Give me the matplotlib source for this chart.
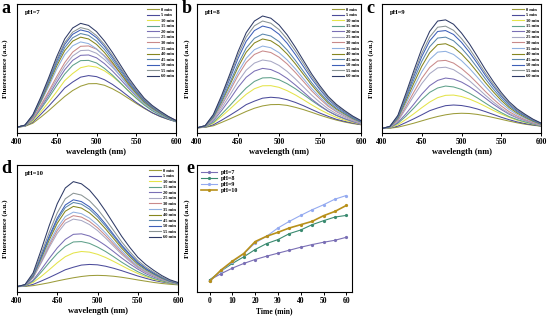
import matplotlib
matplotlib.use("Agg")
import matplotlib.pyplot as plt

plt.rcParams['font.family'] = ['Liberation Serif', 'DejaVu Serif']
plt.rcParams['font.weight'] = 'bold'

wavelength = list(range(400, 601, 10))
times = ["0 min", "5 min", "10 min", "15 min", "20 min", "25 min", "30 min",
         "35 min", "40 min", "45 min", "50 min", "55 min", "60 min"]
colors = ["#9c9c3a", "#4b4b9b", "#e4e44a", "#5fa08a", "#7a6fb5", "#a8a8c4", "#c98a8a",
          "#8fb0e0", "#86861e", "#5a86ac", "#3d5fb8", "#8a9494", "#2e3a66"]

spectra_ph7 = [
    [45, 52, 76, 123, 174, 229, 283, 329, 363, 382, 383, 370, 343, 309, 269, 229, 191, 157, 128, 106, 89],
    [45, 53, 85, 145, 209, 277, 349, 395, 433, 445, 437, 413, 377, 333, 285, 237, 195, 157, 129, 107, 87],
    [45, 55, 93, 164, 240, 321, 406, 461, 506, 520, 511, 482, 439, 387, 330, 273, 223, 178, 145, 119, 95],
    [45, 55, 102, 186, 274, 368, 457, 524, 561, 563, 543, 501, 449, 389, 326, 269, 217, 173, 139, 113, 89],
    [45, 56, 107, 197, 293, 394, 490, 563, 602, 605, 583, 538, 481, 417, 349, 287, 231, 183, 146, 118, 93],
    [45, 57, 111, 207, 309, 417, 519, 597, 639, 642, 618, 570, 510, 441, 369, 303, 243, 192, 153, 123, 96],
    [45, 58, 115, 216, 324, 438, 545, 627, 672, 675, 650, 599, 536, 463, 387, 317, 254, 200, 159, 127, 99],
    [45, 58, 124, 237, 362, 495, 607, 676, 706, 693, 653, 594, 521, 442, 362, 293, 230, 184, 147, 114, 88],
    [45, 59, 129, 247, 380, 520, 638, 712, 743, 729, 687, 624, 548, 464, 380, 307, 240, 192, 153, 118, 90],
    [45, 60, 132, 256, 394, 539, 662, 738, 771, 757, 713, 648, 568, 481, 394, 317, 248, 198, 158, 121, 92],
    [45, 60, 136, 264, 407, 558, 686, 765, 799, 784, 739, 671, 588, 497, 407, 328, 256, 203, 162, 124, 94],
    [45, 60, 138, 269, 416, 570, 701, 782, 817, 802, 755, 686, 601, 508, 416, 335, 261, 207, 165, 126, 95],
    [45, 61, 142, 279, 431, 592, 729, 814, 850, 834, 786, 713, 625, 528, 431, 347, 270, 214, 170, 130, 97],
]
spectra_ph8 = [
    [40, 44, 56, 82, 109, 138, 167, 192, 210, 220, 221, 214, 199, 181, 160, 138, 118, 100, 85, 73, 64],
    [40, 45, 64, 99, 137, 177, 220, 247, 270, 277, 272, 258, 237, 211, 182, 154, 129, 106, 90, 77, 65],
    [40, 47, 76, 129, 185, 244, 300, 343, 366, 367, 354, 328, 295, 257, 218, 181, 149, 121, 99, 83, 68],
    [40, 48, 83, 146, 212, 282, 349, 400, 427, 429, 413, 382, 343, 298, 251, 208, 169, 136, 110, 91, 73],
    [40, 49, 95, 174, 261, 354, 432, 480, 501, 492, 464, 423, 372, 317, 261, 213, 169, 137, 111, 88, 70],
    [40, 51, 103, 193, 293, 398, 487, 542, 566, 556, 524, 477, 419, 356, 293, 237, 187, 150, 122, 95, 74],
    [40, 52, 112, 213, 326, 445, 547, 609, 636, 624, 588, 535, 469, 398, 326, 264, 207, 165, 132, 103, 79],
    [40, 53, 116, 224, 344, 471, 579, 646, 674, 661, 623, 566, 497, 420, 344, 278, 218, 173, 138, 107, 81],
    [40, 54, 123, 240, 371, 509, 626, 698, 729, 715, 674, 612, 536, 453, 371, 298, 233, 185, 147, 112, 85],
    [40, 55, 127, 251, 389, 534, 658, 734, 767, 752, 709, 643, 563, 476, 389, 313, 244, 193, 153, 116, 87],
    [40, 56, 135, 269, 419, 577, 711, 794, 829, 813, 766, 695, 608, 513, 419, 336, 261, 206, 162, 123, 91],
    [40, 57, 139, 280, 437, 603, 744, 831, 868, 851, 802, 727, 636, 537, 437, 351, 272, 214, 168, 127, 94],
    [40, 57, 144, 291, 456, 630, 777, 868, 907, 890, 838, 760, 664, 560, 456, 365, 283, 222, 174, 131, 96],
]
spectra_ph9 = [
    [35, 37, 45, 60, 76, 94, 112, 128, 141, 150, 153, 151, 144, 133, 120, 106, 92, 79, 68, 60, 53],
    [35, 39, 53, 81, 110, 141, 173, 194, 212, 217, 213, 202, 186, 166, 144, 122, 103, 86, 73, 63, 54],
    [35, 40, 64, 105, 149, 196, 240, 274, 292, 294, 283, 263, 237, 207, 175, 147, 121, 99, 82, 69, 57],
    [35, 42, 75, 130, 193, 259, 315, 349, 364, 357, 338, 308, 272, 232, 193, 158, 127, 104, 86, 70, 56],
    [35, 43, 82, 148, 223, 301, 367, 408, 426, 418, 395, 360, 317, 270, 223, 182, 145, 117, 96, 76, 60],
    [35, 45, 92, 188, 288, 383, 460, 505, 510, 491, 452, 405, 350, 293, 240, 192, 152, 121, 97, 76, 59],
    [35, 46, 99, 205, 316, 423, 508, 558, 563, 542, 500, 447, 386, 322, 263, 210, 165, 131, 104, 80, 62],
    [35, 47, 107, 227, 354, 474, 570, 627, 633, 609, 561, 501, 432, 360, 293, 233, 182, 143, 113, 86, 65],
    [35, 48, 114, 246, 385, 517, 622, 685, 692, 665, 613, 547, 471, 391, 319, 253, 197, 154, 121, 91, 68],
    [35, 49, 120, 263, 412, 555, 669, 736, 743, 715, 658, 587, 505, 420, 341, 270, 209, 163, 128, 96, 71],
    [35, 50, 127, 279, 439, 592, 714, 787, 794, 764, 703, 626, 539, 447, 363, 287, 222, 172, 134, 100, 73],
    [35, 51, 131, 290, 457, 617, 744, 820, 828, 796, 732, 653, 561, 465, 378, 298, 230, 179, 139, 103, 75],
    [35, 52, 137, 306, 483, 653, 788, 868, 877, 843, 775, 691, 593, 492, 399, 314, 242, 187, 145, 107, 77],
]
spectra_ph10 = [
    [42, 44, 50, 61, 73, 87, 100, 112, 122, 129, 131, 129, 124, 116, 106, 95, 85, 75, 67, 61, 56],
    [42, 46, 60, 86, 114, 144, 175, 195, 212, 217, 214, 203, 187, 168, 147, 126, 108, 91, 79, 69, 60],
    [42, 48, 75, 122, 175, 230, 278, 307, 319, 314, 297, 272, 241, 208, 175, 146, 120, 100, 85, 71, 60],
    [42, 49, 85, 156, 231, 303, 360, 394, 397, 383, 354, 319, 278, 235, 196, 160, 130, 106, 88, 72, 60],
    [42, 50, 92, 176, 264, 347, 414, 454, 458, 441, 408, 366, 318, 268, 222, 180, 144, 117, 96, 78, 63],
    [42, 53, 111, 228, 351, 462, 542, 574, 563, 531, 484, 425, 361, 297, 242, 191, 154, 125, 98, 77, 63],
    [42, 53, 115, 238, 366, 484, 568, 601, 590, 556, 506, 445, 377, 310, 252, 199, 159, 129, 101, 78, 64],
    [42, 54, 118, 247, 383, 506, 594, 629, 617, 582, 529, 465, 394, 324, 262, 206, 165, 133, 104, 80, 66],
    [42, 55, 124, 263, 409, 541, 636, 674, 661, 623, 567, 497, 421, 345, 279, 219, 175, 140, 108, 83, 67],
    [42, 55, 128, 274, 427, 566, 665, 705, 692, 652, 592, 519, 440, 360, 291, 228, 181, 145, 112, 85, 69],
    [42, 56, 131, 281, 439, 582, 685, 726, 712, 671, 610, 535, 452, 370, 299, 234, 186, 148, 114, 87, 69],
    [42, 57, 138, 300, 469, 623, 734, 778, 763, 719, 653, 572, 484, 395, 318, 248, 197, 156, 119, 90, 71],
    [42, 59, 150, 331, 522, 695, 819, 869, 852, 803, 728, 637, 538, 439, 352, 274, 216, 170, 129, 96, 75],
]

time_min = [0, 5, 10, 15, 20, 25, 30, 35, 40, 45, 50, 55, 60]
kin_ph7 = [36, 55, 72, 86, 98, 108, 117, 126, 135, 143, 150, 156, 165]
kin_ph8 = [36, 63, 86, 106, 128, 146, 158, 176, 187, 203, 215, 226, 231]
kin_ph9 = [33, 63, 91, 115, 148, 168, 193, 213, 231, 248, 263, 280, 291]
kin_ph10 = [32, 66, 93, 116, 152, 168, 180, 193, 203, 213, 230, 243, 261]
kin_labels = ["pH=7", "pH=8", "pH=9", "pH=10"]
kin_colors = ["#7a6fb5", "#3a8a70", "#94aaf0", "#b8901a"]

W, H = 550, 321
fig = plt.figure(figsize=(W / 100, H / 100), dpi=100)


def px_axes(l, t, r, b):
    return fig.add_axes([l / W, 1 - b / H, (r - l) / W, (b - t) / H])


def style(ax):
    for s in ax.spines.values():
        s.set_linewidth(0.8)
    ax.tick_params(axis='x', direction='out', length=2, width=0.7, pad=1.5, labelsize=5.5)
    ax.set_yticks([])
    for lab in ax.get_xticklabels():
        lab.set_fontweight('bold')


def spectra_panel(ax, data, title, letter, lx, ly):
    for row, c, t in zip(data, colors, times):
        ax.plot(wavelength, row, color=c, lw=0.75, label=t)
    ax.set_xlim(400, 600)
    ax.set_ylim(0, 1000)
    ax.set_xticks([400, 450, 500, 550, 600])
    style(ax)
    ax.set_xlabel("wavelength (nm)", fontsize=6, fontweight='bold', labelpad=1.5)
    ax.set_ylabel("Fluorescence (a.u.)", fontsize=5.2, fontweight='bold')
    ax.yaxis.set_label_coords(-0.055, 0.5)
    ax.text(0.05, 0.955, title, transform=ax.transAxes, fontsize=4.8,
            fontweight='bold', va='top', ha='left')
    leg = ax.legend(loc='upper right', bbox_to_anchor=(1.0, 0.985), fontsize=3.2,
                    frameon=False, handlelength=2.6, handletextpad=0.5,
                    labelspacing=0.32, borderpad=0.2, borderaxespad=0.2)
    for line in leg.get_lines():
        line.set_linewidth(0.8)
    fig.text(lx / W, 1 - ly / H, letter, fontsize=13, fontweight='bold',
             ha='left', va='top')


ax_a = px_axes(17, 4, 176, 133)
spectra_panel(ax_a, spectra_ph7, "pH=7", "a", 1, 0)
ax_b = px_axes(197, 4, 361, 133)
spectra_panel(ax_b, spectra_ph8, "pH=8", "b", 182, 0)
ax_c = px_axes(382, 4, 541, 133)
spectra_panel(ax_c, spectra_ph9, "pH=9", "c", 366, 0)
ax_d = px_axes(17, 165, 178, 292)
spectra_panel(ax_d, spectra_ph10, "pH=10", "d", 1, 160)
ax_b.yaxis.set_label_coords(-0.045, 0.5)
ax_c.yaxis.set_label_coords(-0.05, 0.5)

ax_e = px_axes(197, 165, 352, 292)
for vals, lab, c in zip([kin_ph7, kin_ph8, kin_ph9, kin_ph10], kin_labels, kin_colors):
    lw = 1.2 if lab == "pH=10" else 0.8
    ax_e.plot(time_min, vals, color=c, lw=lw, marker='o', ms=1.3, label=lab)
ax_e.set_xlim(-5.5, 62.5)
ax_e.set_ylim(0, 383)
ax_e.set_xticks([0, 10, 20, 30, 40, 50, 60])
style(ax_e)
ax_e.set_xlabel("Time (min)", fontsize=5.5, fontweight='bold', labelpad=1.5)
ax_e.set_ylabel("Fluorescence (a.u.)", fontsize=5.2, fontweight='bold')
ax_e.yaxis.set_label_coords(-0.045, 0.5)
leg = ax_e.legend(loc='upper left', bbox_to_anchor=(0.0, 1.0), fontsize=4.3,
                  frameon=False, handlelength=2.6, handletextpad=0.6,
                  labelspacing=0.15, borderpad=0.25)
fig.text(186 / W, 1 - 160 / H, "e", fontsize=13, fontweight='bold', ha='left', va='top')

fig.savefig("out.png", dpi=100)
